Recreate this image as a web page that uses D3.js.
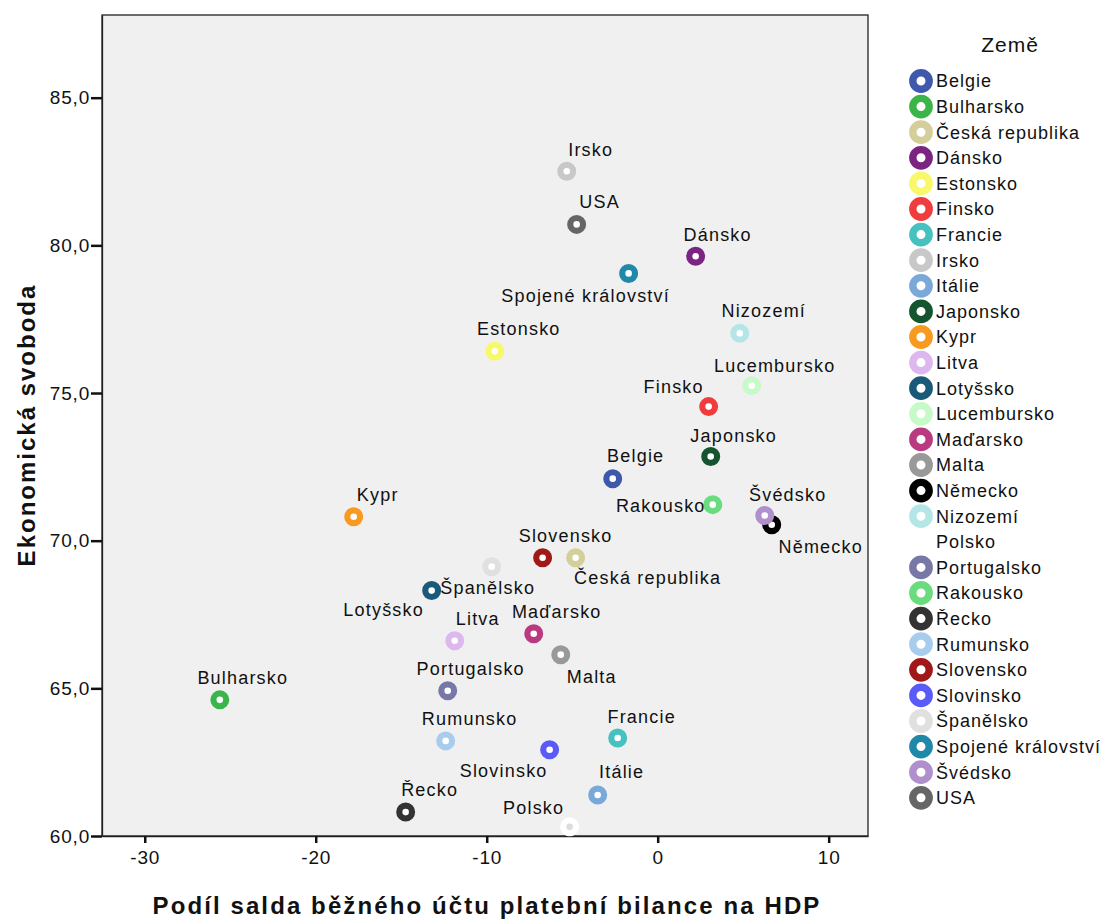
<!DOCTYPE html>
<html><head><meta charset="utf-8">
<script src="https://cdn.jsdelivr.net/npm/d3@7"></script>
<style>body{margin:0;background:#fff;}text{font-family:"Liberation Sans",Arial,sans-serif;}</style>
</head><body><svg id="c" width="1109" height="920"></svg>
<script>
const countries = ["Belgie","Bulharsko","Česká republika","Dánsko","Estonsko","Finsko","Francie","Irsko","Itálie","Japonsko","Kypr","Litva","Lotyšsko","Lucembursko","Maďarsko","Malta","Německo","Nizozemí","Polsko","Portugalsko","Rakousko","Řecko","Rumunsko","Slovensko","Slovinsko","Španělsko","Spojené království","Švédsko","USA"];
const balance = [-2.63,-25.61,-4.80,2.22,-9.53,2.98,-2.34,-5.32,-3.51,3.10,-17.78,-11.87,-13.22,5.50,-7.25,-5.67,6.67,4.80,-5.15,-12.28,3.22,-14.74,-12.40,-6.73,-6.32,-9.71,-1.70,6.26,-4.74];
const freedom = [72.10,64.61,69.42,79.63,76.41,74.54,63.32,82.51,61.39,72.85,70.81,66.61,68.31,75.25,66.85,66.14,70.54,77.02,60.31,64.92,71.22,60.81,63.22,69.42,62.92,69.12,79.05,70.85,80.71];
const colors = ["#3e58ac","#3bb54a","#d4cf9a","#7b2481","#f8f86a","#f03c3c","#47c1c0","#c8c8c8","#7aa8d8","#14542e","#f89a20","#dcb8ee","#1a5a78","#c6fac8","#b93a7e","#999999","#000000","#b4e6e8","#ffffff","#7878a6","#6adc7e","#333333","#a8ccee","#a01818","#5a5af8","#e0e0e0","#2088a8","#b090cc","#666666"];
const xTicks = [-30,-20,-10,0,10];
const yTicks = [60,65,70,75,80,85];
// label offsets (layout only)
const labelOffsets = {"Belgie":[23,-23],"Bulharsko":[23,-22],"Česká republika":[72,20],"Dánsko":[22,-22],"Estonsko":[24,-23],"Finsko":[-35,-20],"Francie":[24,-21],"Irsko":[24,-22],"Itálie":[24,-23],"Japonsko":[23,-21],"Kypr":[24,-22],"Litva":[23,-22],"Lotyšsko":[-48,19],"Lucembursko":[23,-20],"Maďarsko":[23,-22],"Malta":[31,22],"Německo":[49,22],"Nizozemí":[24,-23],"Polsko":[-36,-19],"Portugalsko":[23,-22],"Rakousko":[-52,1],"Řecko":[24,-22],"Rumunsko":[24,-22],"Slovensko":[23,-22],"Slovinsko":[-46,21],"Španělsko":[-4,21],"Spojené království":[-43,22],"Švédsko":[23,-21],"USA":[23,-23]};

const svg = d3.select("#c");
const L=102, R=868, T=15, B=836;
const x = d3.scaleLinear().domain([-32.5,12.3]).range([L,R]);
const y = d3.scaleLinear().domain([60,87.8]).range([B,T]);

svg.append("rect").attr("x",L).attr("y",T).attr("width",R-L).attr("height",B-T).attr("fill","#f0f0f0").attr("stroke","#222").attr("stroke-width",1.3);

const fmt = d => d.toFixed(1).replace(".",",");
const ya = svg.append("g").attr("transform",`translate(${L},0)`).call(d3.axisLeft(y).tickValues(yTicks).tickFormat(fmt).tickSize(11).tickSizeOuter(0).tickPadding(1));
const xa = svg.append("g").attr("transform",`translate(0,${B})`).call(d3.axisBottom(x).tickValues(xTicks).tickFormat(d3.format("d")).tickSize(7).tickSizeOuter(0).tickPadding(8));
[ya,xa].forEach(a=>{a.select(".domain").attr("stroke","#222").attr("stroke-width",1.3);a.selectAll(".tick line").attr("stroke","#111").attr("stroke-width",2.5);a.selectAll("text").attr("font-size",19).attr("letter-spacing",0.8).attr("fill","#111").attr("font-family","Liberation Sans, Arial, sans-serif");});
xa.selectAll(".tick text").text(d=>d<0?"-"+Math.abs(d):d);

svg.append("text").attr("x",487).attr("y",914).attr("text-anchor","middle").attr("font-size",24).attr("letter-spacing",2.1).attr("font-weight","bold").attr("fill","#111").text("Podíl salda běžného účtu platební bilance na HDP");
svg.append("text").attr("transform","translate(35,425) rotate(-90)").attr("text-anchor","middle").attr("font-size",24).attr("letter-spacing",2).attr("font-weight","bold").attr("fill","#111").text("Ekonomická svoboda");

const pts = countries.map((c,i)=>({c,x:balance[i],y:freedom[i],col:colors[i]}));
const g = svg.append("g");
pts.forEach(p=>{
  g.append("circle").attr("cx",x(p.x)).attr("cy",y(p.y)).attr("r",6.4).attr("fill",p.c==="Polsko"?"#dcdcdc":"#ffffff").attr("stroke",p.col).attr("stroke-width",6.2);
});
pts.forEach(p=>{
  const o = labelOffsets[p.c];
  g.append("text").attr("x",x(p.x)+o[0]).attr("y",y(p.y)+o[1]).attr("dy","0.35em").attr("text-anchor","middle").attr("font-size",18).attr("letter-spacing",1.2).attr("fill","#111").text(p.c);
});

// legend
svg.append("text").attr("x",1010).attr("y",52).attr("text-anchor","middle").attr("font-size",21).attr("letter-spacing",1).attr("fill","#111").text("Země");
const lg = svg.append("g");
countries.forEach((c,i)=>{
  const yy = 81 + i*25.6;
  lg.append("circle").attr("cx",921).attr("cy",yy).attr("r",8.2).attr("fill","#fff").attr("stroke",colors[i]).attr("stroke-width",7.4);
  lg.append("text").attr("x",936).attr("y",yy).attr("dy","0.35em").attr("font-size",18).attr("letter-spacing",1).attr("fill","#111").text(c);
});
</script></body></html>
